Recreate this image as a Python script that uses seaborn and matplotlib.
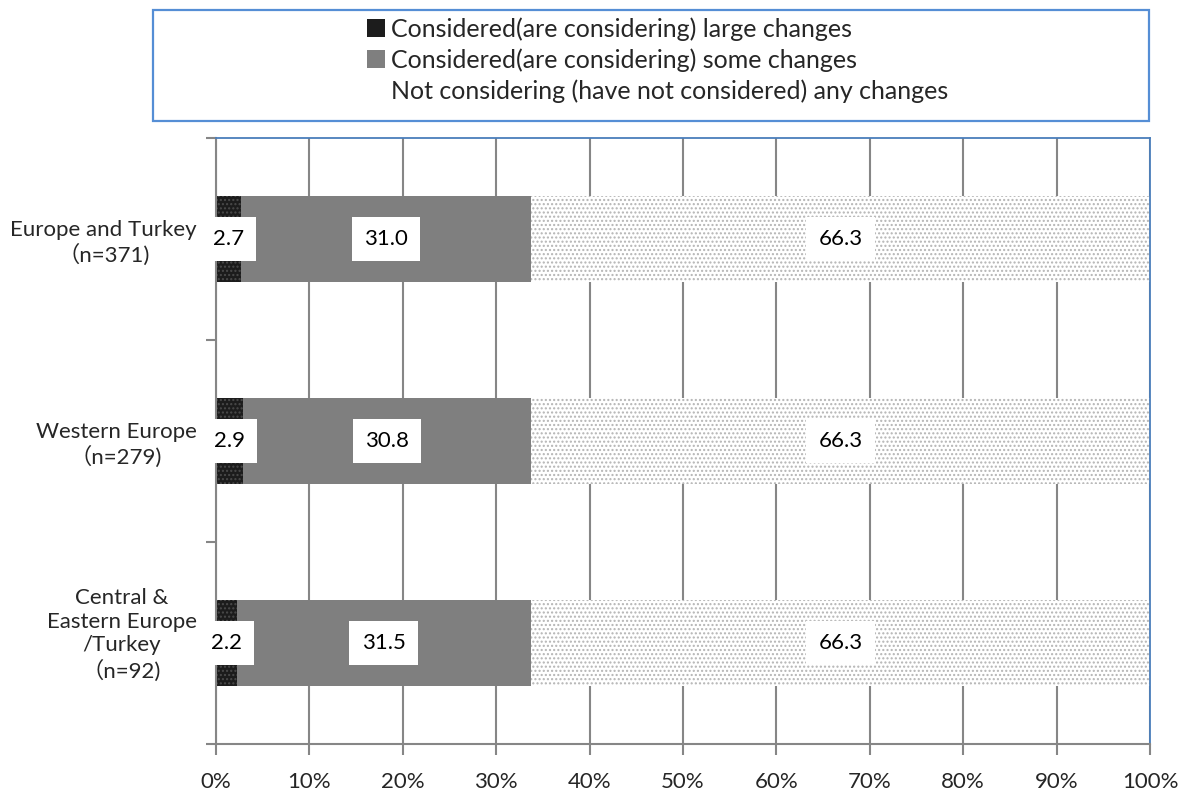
import matplotlib
matplotlib.use("Agg")
import matplotlib.pyplot as plt
from matplotlib.patches import Patch, Rectangle
import numpy as np
import pandas as pd
import seaborn as sns

# Survey results (%), one row per region
regions = ["Europe and Turkey\n（n=371)",
           "Western Europe\n（n=279)",
           "Central &\nEastern Europe\n/Turkey\n（n=92)\n"]
large_changes = [2.7, 2.9, 2.2]
some_changes = [31.0, 30.8, 31.5]
no_changes = [66.3, 66.3, 66.3]
series_names = ["Considered(are considering) large changes",
                "Considered(are considering) some changes",
                "Not considering (have not considered) any changes"]
x_ticks = [0, 10, 20, 30, 40, 50, 60, 70, 80, 90, 100]

sns.set_theme(style="white")
plt.rcParams["font.family"] = ["Lato", "Noto Sans CJK JP", "DejaVu Sans"]
plt.rcParams["hatch.linewidth"] = 1.0

df = pd.DataFrame({
    "region": regions,
    "large": large_changes,
    "some": some_changes,
    "none": no_changes,
})
df["cum_large"] = df["large"]
df["cum_some"] = df["large"] + df["some"]
df["cum_none"] = df["cum_some"] + df["none"]

fig = plt.figure(figsize=(11.92, 7.91), dpi=100)
ax = fig.add_axes([216 / 1192, 1 - 744 / 791, (1150 - 216) / 1192, (744 - 138) / 791])

grid_col = "#868686"
styles = {
    "none": dict(color="white", edgecolor="#b4b4b4", hatch="....", linewidth=0),
    "some": dict(color="#7f7f7f", edgecolor="#7f7f7f", linewidth=0),
    "large": dict(color="#1c1c1c", edgecolor="#4a4a4a", hatch="....", linewidth=0),
}

# Stacked bars: draw cumulative totals from the back to the front
for key in ["none", "some", "large"]:
    sns.barplot(data=df, x="cum_" + key, y="region", orient="h", ax=ax,
                width=0.43, saturation=1, errorbar=None, zorder=2, **styles[key])

# Value labels centred on each segment
fs = 16
box = dict(boxstyle="square,pad=0.55", facecolor="white", edgecolor="none")
for i in range(len(regions)):
    starts = [0, large_changes[i], large_changes[i] + some_changes[i]]
    vals = [large_changes[i], some_changes[i], no_changes[i]]
    for s, v in zip(starts, vals):
        ax.text(s + v / 2, i, f"{v:.1f}", ha="center", va="center",
                fontsize=fs, color="black", bbox=box, zorder=4)

ax.set_xlim(0, 100)
ax.set_ylim(len(regions) - 0.5, -0.5)
ax.set_xticks(x_ticks)
ax.set_xticklabels([f"{t}%" for t in x_ticks], fontsize=fs)
ax.set_xlabel("")
ax.set_ylabel("")
ax.xaxis.grid(True, color=grid_col, linewidth=1.5, zorder=0)
ax.yaxis.grid(False)
ax.set_axisbelow(True)

ax.set_yticks(range(len(regions)))
ax.set_yticklabels(regions, fontsize=fs)
for lbl in ax.get_yticklabels():
    lbl.set_multialignment("center")
    lbl.set_linespacing(1.22)
ax.set_yticks(np.arange(-0.5, len(regions), 1.0), minor=True)
ax.tick_params(axis="y", which="major", length=0, pad=14)
ax.tick_params(axis="y", which="minor", length=7, width=1.5, color=grid_col, left=True)
ax.tick_params(axis="x", which="major", length=8, width=1.5, color=grid_col,
               bottom=True, pad=12)

for side in ["left", "bottom"]:
    ax.spines[side].set_color(grid_col)
    ax.spines[side].set_linewidth(1.5)
for side in ["top", "right"]:
    ax.spines[side].set_color("#4a7ebb")
    ax.spines[side].set_linewidth(1.3)

# Legend in a framed box above the plot
fig.patches.append(Rectangle((153 / 1192, 1 - 121 / 791), (1149 - 153) / 1192, 111 / 791,
                             transform=fig.transFigure, facecolor="white",
                             edgecolor="#558ed5", linewidth=1.6, zorder=0))
handles = [Patch(**styles["large"]), Patch(**styles["some"]), Patch(**styles["none"])]
fig.legend(handles, series_names, loc="center left",
           bbox_to_anchor=(367 / 1192, 1 - 60 / 791), frameon=False,
           fontsize=18, handlelength=0.7, handleheight=0.7, handletextpad=0.25,
           labelspacing=0.3, borderaxespad=0, borderpad=0)

fig.savefig("out.png", dpi=100)
